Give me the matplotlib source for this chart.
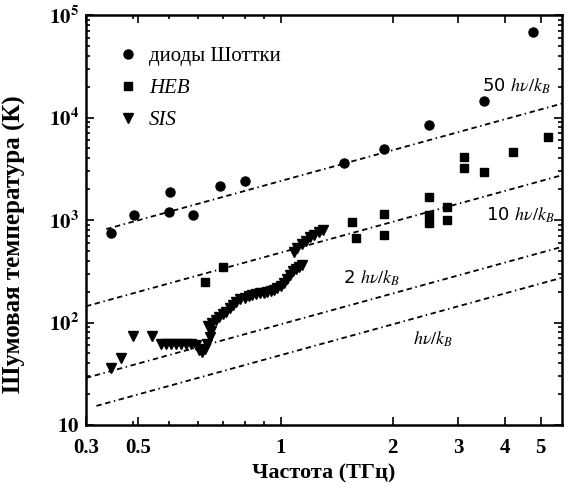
import matplotlib
matplotlib.use("Agg")
from matplotlib import pyplot as plt
from matplotlib.ticker import LogLocator, NullFormatter

plt.rcParams['font.family'] = ['Liberation Serif', 'DejaVu Serif']
plt.rcParams['mathtext.fontset'] = 'stix'

# Schottky diodes (circles)
schottky_f = [0.35, 0.403, 0.503, 0.50, 0.581, 0.688, 0.80, 1.484, 1.89, 2.50, 3.51, 4.76]
schottky_T = [750, 1120, 1875, 1205, 1120, 2150, 2400, 3570, 4900, 8450, 14500, 68700]

# HEB mixers (squares)
heb_f = [0.627, 0.699, 1.557, 1.598, 1.89, 1.90, 2.50, 2.50, 2.50, 2.80, 2.80,
         3.10, 3.10, 3.51, 4.20, 5.24]
heb_T = [250, 350, 961, 662, 1145, 714, 1665, 1120, 942, 1350, 1000,
         4150, 3240, 2920, 4640, 6410]

# SIS mixers (triangles)
sis_f = [0.35, 0.373, 0.40, 0.451, 0.477, 0.492, 0.507, 0.523, 0.539, 0.556, 0.574,
         0.592, 0.605, 0.615, 0.625, 0.635, 0.645, 0.652,
         0.64, 0.655, 0.67, 0.685, 0.70, 0.715, 0.73, 0.745, 0.76, 0.78, 0.80, 0.82,
         0.84, 0.86, 0.88, 0.90, 0.92, 0.94, 0.96, 0.98, 1.00, 1.02, 1.04, 1.06,
         1.08, 1.10, 1.12, 1.14,
         1.085, 1.11, 1.14, 1.17, 1.20, 1.23, 1.27, 1.30]
sis_T = [36, 45, 74, 74, 62, 62, 62, 62, 62, 62, 62,
         60, 54, 52, 55, 62, 72, 82,
         92, 98, 105, 113, 120, 128, 138, 148, 158, 170, 175, 180,
         184, 188, 192, 196, 200, 204, 208, 215, 228, 245, 265, 290,
         315, 335, 350, 365,
         490, 530, 580, 630, 680, 720, 760, 790]

# quantum-limit lines n*h*nu/k_B
hk = 47.99  # K per THz
line_n = [50, 10, 2, 1]
line_f0 = [0.34, 0.30, 0.30, 0.32]
line_f1 = [5.7, 5.7, 5.6, 5.7]
line_labels = [r'50 $h\nu/k_B$', r'10 $h\nu/k_B$', r'2 $h\nu/k_B$', r'$h\nu/k_B$']
label_pos = [(4.3, 2.0e4), (4.4, 1.12e3), (1.76, 270), (2.56, 68)]

xtick_pos = [0.3, 0.414, 1, 2, 3, 4, 5]
xtick_lab = ['0.3', '0.5', '1', '2', '3', '4', '5']
ytick_pos = [10, 1e2, 1e3, 1e4, 1e5]
ytick_lab = [r'$\mathbf{10}$', r'$\mathbf{10^2}$', r'$\mathbf{10^3}$',
             r'$\mathbf{10^4}$', r'$\mathbf{10^5}$']

fig = plt.figure(figsize=(5.68, 4.95), dpi=100)
ax = fig.add_axes([0.1514, 0.1414, 0.8380, 0.8283])

for n, f0, f1, lab, pos in zip(line_n, line_f0, line_f1, line_labels, label_pos):
    ax.plot([f0, f1], [n * hk * f0, n * hk * f1], color='black', lw=1.3,
            linestyle=(0, (3, 2, 3, 2, 0.8, 2)))
    ax.text(pos[0], pos[1], lab, fontsize=13, ha='center', va='center',
            family='DejaVu Sans')

ax.plot(schottky_f, schottky_T, 'o', color='black', ms=6.5, label='диоды Шоттки')
ax.plot(heb_f, heb_T, 's', color='black', ms=6, label='HEB')
ax.plot(sis_f, sis_T, 'v', color='black', ms=6.5, label='SIS')

ax.set_xscale('log')
ax.set_yscale('log')
ax.set_xlim(0.3, 5.7)
ax.set_ylim(10, 1e5)

ax.set_xticks(xtick_pos, labels=xtick_lab)
ax.set_yticks(ytick_pos, labels=ytick_lab)
ax.xaxis.set_minor_locator(LogLocator(base=10, subs=range(2, 10)))
ax.xaxis.set_minor_formatter(NullFormatter())
ax.yaxis.set_minor_locator(LogLocator(base=10, subs=range(2, 10)))
ax.yaxis.set_minor_formatter(NullFormatter())
ax.tick_params(which='both', direction='in', top=True, right=True, width=1.2)
ax.tick_params(which='major', length=6)
ax.tick_params(which='minor', length=3)
ax.tick_params(axis='x', which='major', labelsize=15, pad=9)
ax.tick_params(axis='y', which='major', labelsize=15, pad=5)
for lbl in ax.get_xticklabels():
    lbl.set_fontweight('bold')
for sp in ax.spines.values():
    sp.set_linewidth(1.8)

ax.set_xlabel('Частота (ТГц)', fontsize=16, fontweight='bold', labelpad=4)
ax.set_ylabel('Шумовая температура (К)', fontsize=18, fontweight='bold')
ax.yaxis.set_label_coords(-0.125, 0.44)

leg = ax.legend(loc='upper left', bbox_to_anchor=(0.067, 0.923), frameon=False,
                fontsize=15, handlelength=1.0, handletextpad=0.5, labelspacing=0.6,
                borderaxespad=0, borderpad=0)
for t in leg.get_texts()[1:]:
    t.set_fontstyle('italic')

fig.savefig('out.png', dpi=100)
